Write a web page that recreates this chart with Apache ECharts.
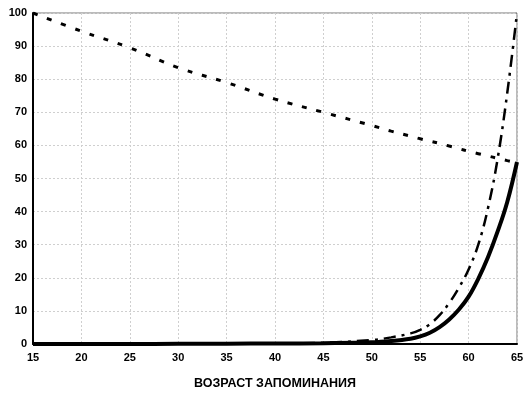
<!DOCTYPE html>
<html>
<head>
<meta charset="utf-8">
<script src="https://cdn.jsdelivr.net/npm/echarts@6/dist/echarts.min.js"></script>
<style>
  html, body { margin: 0; padding: 0; background: #fff; }
  #chart { width: 531px; height: 395px; }
</style>
</head>
<body>
<div id="chart"></div>
<script>
// возраст (ось X) и три кривые
var ages = [15, 20, 25, 30, 35, 40, 45, 50, 52, 54, 55, 56, 57, 58, 59, 60, 61, 62, 63, 64, 65];
var dottedVals = [100, 94.5, 89.5, 83.5, 79, 74, 70, 66, 64.3, 62.8, 62, 61.3, 60.6, 59.8, 59, 58.2, 57.5, 56.8, 56.1, 55.4, 54.8];
var solidVals = [0, 0, 0, 0.05, 0.1, 0.15, 0.25, 0.5, 0.9, 1.6, 2.3, 3.4, 5.1, 7.4, 10.4, 14.3, 19.7, 26.2, 34, 43, 55];
var dashDotVals = [0, 0, 0, 0.05, 0.1, 0.2, 0.4, 1.2, 2, 3.2, 4.3, 6, 8.7, 12.4, 17, 22.5, 30, 41, 56, 76, 100];

var xTicks = [15, 20, 25, 30, 35, 40, 45, 50, 55, 60, 65];
var yTicks = [0, 10, 20, 30, 40, 50, 60, 70, 80, 90, 100];
var xName = 'ВОЗРАСТ ЗАПОМИНАНИЯ';

function pairs(xs, ys) {
    var out = [];
    for (var i = 0; i < xs.length; i++) out.push([xs[i], ys[i]]);
    return out;
}

var font = '"Liberation Sans", Arial, sans-serif';
var chart = echarts.init(document.getElementById('chart'));
chart.setOption({
    animation: false,
    grid: {
        left: 33, right: 14, top: 13, bottom: 42,
        show: true, borderColor: '#777', borderWidth: 1
    },
    xAxis: {
        type: 'value',
        min: xTicks[0], max: xTicks[xTicks.length - 1], interval: 5,
        name: xName, nameLocation: 'middle', nameGap: 33,
        nameTextStyle: { fontFamily: font, fontWeight: 'bold', fontSize: 12.5, color: '#000' },
        axisLine: { lineStyle: { color: '#000', width: 2 } },
        axisTick: { show: false },
        axisLabel: { fontFamily: font, fontWeight: 'bold', fontSize: 11, color: '#000', margin: 8 },
        splitLine: { lineStyle: { color: '#cfcfcf', type: [2, 2], width: 1 } }
    },
    yAxis: {
        type: 'value',
        min: yTicks[0], max: yTicks[yTicks.length - 1], interval: 10,
        axisLine: { show: true, lineStyle: { color: '#000', width: 2 } },
        axisTick: { show: false },
        axisLabel: { fontFamily: font, fontWeight: 'bold', fontSize: 11, color: '#000', margin: 6 },
        splitLine: { lineStyle: { color: '#cfcfcf', type: [2, 2], width: 1 } }
    },
    series: [
        {
            type: 'line', data: pairs(ages, dottedVals), smooth: 0.4, showSymbol: false,
            lineStyle: { color: '#000', width: 3, type: [5, 10] }
        },
        {
            type: 'line', data: pairs(ages, dashDotVals), smooth: 0.4, showSymbol: false,
            lineStyle: { color: '#000', width: 2.5, type: [12, 6, 3, 6] }
        },
        {
            type: 'line', data: pairs(ages, solidVals), smooth: 0.4, showSymbol: false,
            lineStyle: { color: '#000', width: 4 }
        }
    ]
});
</script>
</body>
</html>
